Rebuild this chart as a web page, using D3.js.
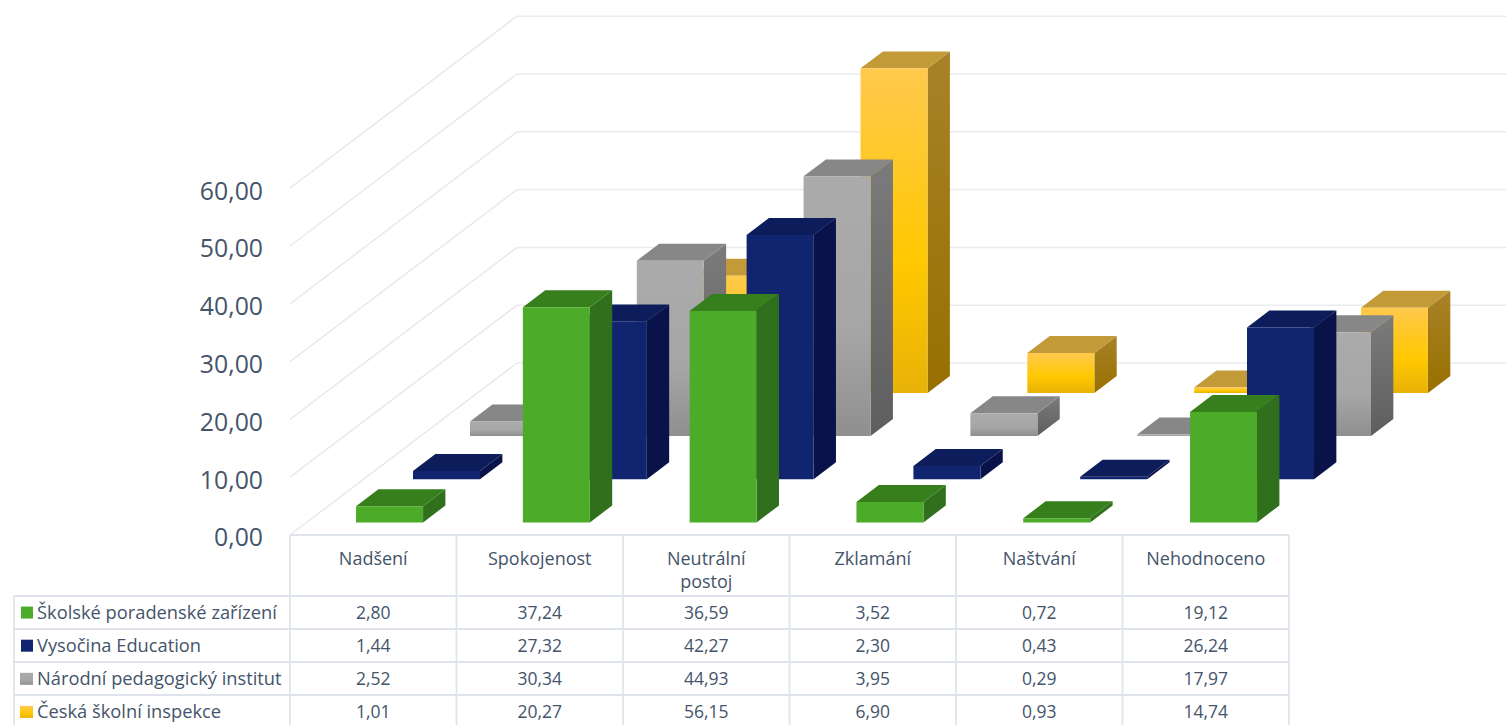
<!DOCTYPE html>
<html lang="cs"><head><meta charset="utf-8">
<script src="https://cdn.jsdelivr.net/npm/d3@7"></script>
<style>html,body{margin:0;padding:0;background:#fff;overflow:hidden}svg{display:block}text{font-family:"Open Sans",sans-serif;fill:#44546a}</style>
</head><body><svg id="c" width="1506" height="725"></svg>
<script>
const categories=["Nadšení","Spokojenost","Neutrální postoj","Zklamání","Naštvání","Nehodnoceno"];
const seriesNames=["Školské poradenské zařízení","Vysočina Education","Národní pedagogický institut","Česká školní inspekce"];
const vSkolske=[2.80,37.24,36.59,3.52,0.72,19.12];
const vVysocina=[1.44,27.32,42.27,2.30,0.43,26.24];
const vNarodni=[2.52,30.34,44.93,3.95,0.29,17.97];
const vCeska=[1.01,20.27,56.15,6.90,0.93,14.74];
const seriesValues=[vSkolske,vVysocina,vNarodni,vCeska];
const yTicks=[0,10,20,30,40,50,60];
const palettes=[
 {front:["#4dab2a","#4dab2a","#4dab2a"],side:["#30701c","#30701c"],top:"#377f1c"},
 {front:["#10246f","#10246f","#10246f"],side:["#091349","#091349"],top:"#0d1c5a"},
 {front:["#ababab","#a6a6a6","#8f8f8f"],side:["#7b7b7b","#5e5e5e"],top:"#878787"},
 {front:["#ffc94d","#ffc800","#e8b208"],side:["#a88228","#987000"],top:"#c39a38"}];

const svg=d3.select("#c");
const defs=svg.append("defs");
const fmt=v=>d3.format(".2f")(v).replace(".",",");
const lineC="#dfe4ec";

// scales
const xCat=d3.scaleBand().domain(d3.range(categories.length)).range([290,1289]);
const xBar=d3.scaleLinear().domain([0,categories.length-1]).range([339.4,1173.4]);
const yVal=d3.scaleLinear().domain([0,60]).range([0,346.8]);
const depthX=d3.scaleLinear().domain([0,1]).range([0,227]);
const depthY=d3.scaleLinear().domain([0,1]).range([0,-172]);
const FLOOR=535, BAR_W=67;
// series sit at these depth fractions of the floor
const seriesDepth=d3.scaleLinear().domain([0,3]).range([0.0733,0.8262]);
const barDepth=0.0985;

const P=(x,v,d)=>[x+depthX(d),FLOOR-yVal(v)+depthY(d)];
const lineGen=d3.line();

// gridlines
const grid=svg.append("g").attr("fill","none");
yTicks.forEach(t=>{
  grid.append("path").attr("d",lineGen([P(290,t,0),P(290,t,1)])).attr("stroke","#e9e9e9").attr("stroke-width",1.5);
  grid.append("path").attr("d",lineGen([P(290,t,1),[1506,P(290,t,1)[1]]])).attr("stroke","#e9ebf0").attr("stroke-width",1.5);
});

// y axis
const axisScale=d3.scaleLinear().domain([0,60]).range([FLOOR,FLOOR-346.8]);
const ax=svg.append("g").attr("transform","translate(263,3)")
  .call(d3.axisLeft(axisScale).tickValues(yTicks).tickFormat(fmt).tickSize(0).tickPadding(0));
ax.select(".domain").remove();
ax.selectAll("text").style("font-size","24.8px").attr("fill","#44546a");

// gradients
palettes.forEach((p,i)=>{
  const f=defs.append("linearGradient").attr("id","f"+i).attr("x1",0).attr("y1",0).attr("x2",0).attr("y2",1);
  p.front.forEach((c,k)=>f.append("stop").attr("offset",[0,0.6,1][k]).attr("stop-color",c));
  const s=defs.append("linearGradient").attr("id","s"+i).attr("x1",0).attr("y1",0).attr("x2",0).attr("y2",1);
  p.side.forEach((c,k)=>s.append("stop").attr("offset",k).attr("stop-color",c));
});

// bars, back to front
const bars=svg.append("g");
d3.range(seriesValues.length-1,-1,-1).forEach(s=>{
  seriesValues[s].forEach((v,c)=>{
    const x0=xBar(c), x1=x0+BAR_W, d0=seriesDepth(s), d1=d0+barDepth;
    const g=bars.append("g");
    const poly=pts=>lineGen(pts)+"Z";
    g.append("path").attr("d",poly([P(x1,0,d0),P(x1,v,d0),P(x1,v,d1),P(x1,0,d1)])).attr("fill",`url(#s${s})`);
    g.append("path").attr("d",poly([P(x0,v,d0),P(x1,v,d0),P(x1,v,d1),P(x0,v,d1)])).attr("fill",palettes[s].top);
    g.append("path").attr("d",poly([P(x0,0,d0),P(x1,0,d0),P(x1,v,d0),P(x0,v,d0)])).attr("fill",`url(#f${s})`);
  });
});

// data table
const rowEdges=[535,596,629,662,695,725];
const rowScale=d3.scaleBand().domain(d3.range(seriesNames.length)).range([596,728.5]);
const tb=svg.append("g").attr("stroke",lineC).attr("stroke-width",1.8).attr("fill","none");
tb.append("path").attr("d",lineGen([[290,535],[1289,535]]));
rowEdges.slice(1,5).forEach(y=>tb.append("path").attr("d",lineGen([[14,y],[1289,y]])));
tb.append("path").attr("d",lineGen([[14,596],[14,725]]));
d3.range(categories.length+1).forEach(i=>{
  const x=i<categories.length?xCat(i):1289;
  tb.append("path").attr("d",lineGen([[x,535],[x,725]]));
});
const t=svg.append("g");
categories.forEach((c,i)=>{
  const cx=xCat(i)+xCat.bandwidth()/2;
  const parts=c==="Neutrální postoj"?c.split(" "):[c];
  parts.forEach((w,k)=>t.append("text").attr("x",cx).attr("y",565+k*22.5).attr("text-anchor","middle").style("font-size","18px").text(w));
});
seriesNames.forEach((n,s)=>{
  const cy=rowScale(s)+rowScale.bandwidth()/2;
  svg.append("rect").attr("x",s>1?20:21).attr("y",cy-6).attr("width",s>1?13:12).attr("height",12).attr("fill",`url(#f${s})`);
  t.append("text").attr("x",37).attr("y",cy+6.5).style("font-size","18.3px").text(n);
  seriesValues[s].forEach((v,c)=>t.append("text").attr("x",xCat(c)+xCat.bandwidth()/2).attr("y",cy+6.5).attr("text-anchor","middle").style("font-size","17.5px").text(fmt(v)));
});
</script></body></html>
